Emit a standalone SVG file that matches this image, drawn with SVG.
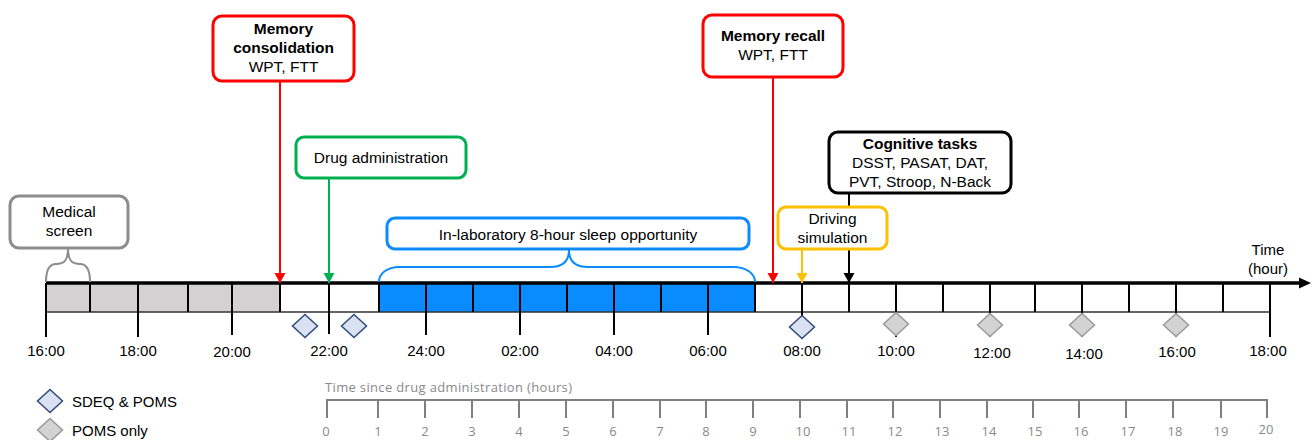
<svg xmlns="http://www.w3.org/2000/svg" width="1312" height="440" viewBox="0 0 1312 440">
<style>
text{font-family:"Liberation Sans",Arial,sans-serif;fill:#000}
.t{font-size:15.5px;text-anchor:middle}
.b{font-weight:bold}
.hl{font-size:15px;text-anchor:middle}
.lg{font-size:15px}
.box{fill:#fff;stroke-width:3}
.cell{stroke:#000;stroke-width:2}
.sc{stroke:#7f7f7f;stroke-width:2;fill:none}
text.sct,.sct text{font-family:"Open Sans","Liberation Sans",sans-serif;font-size:13px;fill:#8a8a8a;text-anchor:middle}
.dA{fill:#d9e1f2;stroke:#2f4a7a;stroke-width:1.5}
.dB{fill:#d3d3d3;stroke:#999;stroke-width:1.5}
.arr{stroke-width:2;fill:none}
</style>
<defs>
<marker id="mR" markerUnits="userSpaceOnUse" markerWidth="11" markerHeight="12" refX="10" refY="6" orient="auto"><path d="M0,0.5 L10,6 L0,11.5 z" fill="#ff0000"/></marker>
<marker id="mG" markerUnits="userSpaceOnUse" markerWidth="11" markerHeight="12" refX="10" refY="6" orient="auto"><path d="M0,0.5 L10,6 L0,11.5 z" fill="#00b050"/></marker>
<marker id="mY" markerUnits="userSpaceOnUse" markerWidth="11" markerHeight="12" refX="10" refY="6" orient="auto"><path d="M0,0.5 L10,6 L0,11.5 z" fill="#ffc000"/></marker>
<marker id="mK" markerUnits="userSpaceOnUse" markerWidth="11" markerHeight="12" refX="10" refY="6" orient="auto"><path d="M0,0.5 L10,6 L0,11.5 z" fill="#000"/></marker>
<path id="dia" d="M0,-11.5 L12.5,0 L0,11.5 L-12.5,0 z"/>
</defs>

<g id="timeline">
<rect x="46" y="284" width="234" height="28" fill="#d3d1d2"/>
<rect x="379" y="284" width="376" height="28" fill="#0a8cff"/>
<line x1="46" y1="312" x2="1270" y2="312" stroke="#333" stroke-width="1.5"/>
<g class="cell">
<line x1="46" y1="283" x2="46" y2="337"/>
<line x1="90" y1="283" x2="90" y2="312"/>
<line x1="138" y1="283" x2="138" y2="337"/>
<line x1="188" y1="283" x2="188" y2="312"/>
<line x1="232" y1="283" x2="232" y2="335"/>
<line x1="280" y1="283" x2="280" y2="312"/>
<line x1="329" y1="283" x2="329" y2="334"/>
<line x1="379" y1="283" x2="379" y2="312"/>
<line x1="426" y1="283" x2="426" y2="335"/>
<line x1="473" y1="283" x2="473" y2="312"/>
<line x1="520" y1="283" x2="520" y2="335"/>
<line x1="567" y1="283" x2="567" y2="312"/>
<line x1="614" y1="283" x2="614" y2="335"/>
<line x1="661" y1="283" x2="661" y2="312"/>
<line x1="708" y1="283" x2="708" y2="335"/>
<line x1="755" y1="283" x2="755" y2="312"/>
<line x1="802" y1="283" x2="802" y2="337"/>
<line x1="849" y1="283" x2="849" y2="312"/>
<line x1="896" y1="283" x2="896" y2="337"/>
<line x1="943" y1="283" x2="943" y2="312"/>
<line x1="990" y1="283" x2="990" y2="337"/>
<line x1="1035" y1="283" x2="1035" y2="312"/>
<line x1="1082" y1="283" x2="1082" y2="337"/>
<line x1="1129" y1="283" x2="1129" y2="312"/>
<line x1="1176" y1="283" x2="1176" y2="337"/>
<line x1="1223" y1="283" x2="1223" y2="312"/>
<line x1="1270" y1="283" x2="1270" y2="337"/>
</g>
<line x1="46" y1="283" x2="1300" y2="283" stroke="#000" stroke-width="3.5"/>
<path d="M1299,277.5 L1311,283 L1299,288.5 z" fill="#000"/>
<g class="hl">
<text x="46" y="356">16:00</text>
<text x="138" y="356">18:00</text>
<text x="232" y="357">20:00</text>
<text x="329" y="356">22:00</text>
<text x="426" y="356">24:00</text>
<text x="520" y="356">02:00</text>
<text x="614" y="356">04:00</text>
<text x="708" y="356">06:00</text>
<text x="802" y="356">08:00</text>
<text x="896" y="356">10:00</text>
<text x="992" y="358">12:00</text>
<text x="1084" y="359">14:00</text>
<text x="1177" y="357">16:00</text>
<text x="1268" y="356">18:00</text>
</g>
<text class="hl" x="1268" y="255">Time</text>
<text class="hl" x="1268" y="274">(hour)</text>
</g>

<g id="diamonds">
<use href="#dia" class="dA" x="305" y="326"/>
<use href="#dia" class="dA" x="354" y="326"/>
<use href="#dia" class="dA" x="802" y="327"/>
<use href="#dia" class="dB" x="896" y="324"/>
<use href="#dia" class="dB" x="990" y="325"/>
<use href="#dia" class="dB" x="1082" y="325"/>
<use href="#dia" class="dB" x="1176" y="325"/>
</g>

<g id="connectors">
<line class="arr" x1="280" y1="81" x2="280" y2="283" stroke="#ff0000" marker-end="url(#mR)"/>
<line class="arr" x1="329" y1="178" x2="329" y2="283" stroke="#00b050" marker-end="url(#mG)"/>
<line class="arr" x1="773" y1="78" x2="773" y2="283" stroke="#ff0000" marker-end="url(#mR)"/>
<line class="arr" x1="802" y1="249" x2="802" y2="283" stroke="#ffc000" marker-end="url(#mY)"/>
<line class="arr" x1="849" y1="193" x2="849" y2="283" stroke="#000" marker-end="url(#mK)"/>
<path class="arr" d="M68,248 C68,261 64,264 56,264 C49,264 46,270 46,282" stroke="#8c8c8c"/>
<path class="arr" d="M68,248 C68,261 72,264 80,264 C87,264 90,270 90,282" stroke="#8c8c8c"/>
<path class="arr" d="M569,250 C569,262 562,267 550,267 L400,267 C386,267 379,274 379,282" stroke="#0a8cff" stroke-width="2.5"/>
<path class="arr" d="M569,250 C569,262 576,267 588,267 L733,267 C747,267 755,274 755,282" stroke="#0a8cff" stroke-width="2.5"/>
</g>

<g id="medical-screen">
<rect class="box" x="10" y="196" width="118" height="52" rx="9" stroke="#8c8c8c"/>
<text class="t" x="69" y="217">Medical</text>
<text class="t" x="69" y="236">screen</text>
</g>

<g id="memory-consolidation">
<rect class="box" x="213" y="16" width="141" height="65" rx="9" stroke="#ff0000"/>
<text class="t b" x="283.5" y="34">Memory</text>
<text class="t b" x="283.5" y="53">consolidation</text>
<text class="t" x="283.5" y="72">WPT, FTT</text>
</g>

<g id="drug-administration">
<rect class="box" x="296" y="137" width="170" height="41" rx="8" stroke="#00b050"/>
<text class="t" x="381" y="163">Drug administration</text>
</g>

<g id="sleep">
<rect class="box" x="387" y="218" width="362" height="31" rx="8" stroke="#0a8cff"/>
<text class="t" x="568" y="240">In-laboratory 8-hour sleep opportunity</text>
</g>

<g id="memory-recall">
<rect class="box" x="703" y="15" width="140" height="62" rx="9" stroke="#ff0000"/>
<text class="t b" x="773" y="41">Memory recall</text>
<text class="t" x="773" y="60">WPT, FTT</text>
</g>

<g id="driving-simulation">
<rect class="box" x="778" y="207" width="109" height="42" rx="8" stroke="#ffc000"/>
<text class="t" x="832.5" y="224">Driving</text>
<text class="t" x="832.5" y="243">simulation</text>
</g>

<g id="cognitive-tasks">
<rect class="box" x="829" y="132" width="182" height="61" rx="9" stroke="#000"/>
<text class="t b" x="920" y="149">Cognitive tasks</text>
<text class="t" x="920" y="168">DSST, PASAT, DAT,</text>
<text class="t" x="920" y="187">PVT, Stroop, N-Back</text>
</g>

<g id="legend">
<use href="#dia" class="dA" x="50" y="401"/>
<text class="lg" x="72" y="407">SDEQ &amp; POMS</text>
<use href="#dia" class="dB" x="50" y="430"/>
<text class="lg" x="72" y="436">POMS only</text>
</g>

<g id="drug-scale">
<text class="sct" x="325" y="392" style="text-anchor:start" textLength="247">Time since drug administration (hours)</text>
<path class="sc" d="M327,418 V400 H1267 V418 M378,400 V418 M425,400 V418 M472,400 V418 M519,400 V418 M566,400 V418 M613,400 V418 M660,400 V418 M706,400 V418 M753,400 V418 M800,400 V418 M847,400 V418 M893,400 V418 M940,400 V418 M987,400 V418 M1033,400 V418 M1079,400 V418 M1126,400 V418 M1173,400 V418 M1221,400 V418"/>
<g class="sct">
<text x="326" y="436">0</text>
<text x="378" y="436">1</text>
<text x="425" y="436">2</text>
<text x="472" y="436">3</text>
<text x="519" y="436">4</text>
<text x="566" y="436">5</text>
<text x="613" y="436">6</text>
<text x="660" y="436">7</text>
<text x="706" y="436">8</text>
<text x="753" y="436">9</text>
<text x="803" y="436">10</text>
<text x="849" y="436">11</text>
<text x="895" y="436">12</text>
<text x="942" y="436">13</text>
<text x="989" y="436">14</text>
<text x="1035" y="436">15</text>
<text x="1081" y="436">16</text>
<text x="1128" y="436">17</text>
<text x="1175" y="436">18</text>
<text x="1221" y="436">19</text>
<text x="1266" y="434">20</text>
</g>
</g>
</svg>
